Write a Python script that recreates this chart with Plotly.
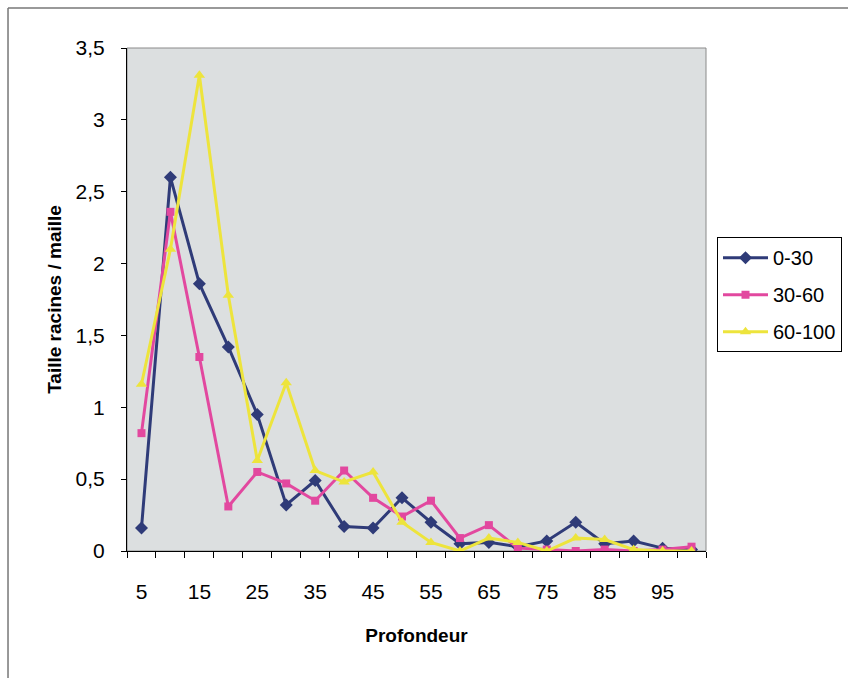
import plotly.graph_objects as go

profondeur = [5, 10, 15, 20, 25, 30, 35, 40, 45, 50, 55, 60, 65, 70, 75, 80, 85, 90, 95, 100]
s_0_30 = [0.16, 2.60, 1.86, 1.42, 0.95, 0.32, 0.49, 0.17, 0.16, 0.37, 0.20, 0.05, 0.06, 0.03, 0.07, 0.20, 0.05, 0.07, 0.02, 0.01]
s_30_60 = [0.82, 2.36, 1.35, 0.31, 0.55, 0.47, 0.35, 0.56, 0.37, 0.24, 0.35, 0.09, 0.18, 0.02, 0.01, 0.0, 0.01, 0.0, 0.01, 0.03]
s_60_100 = [1.16, 2.10, 3.31, 1.78, 0.63, 1.17, 0.56, 0.48, 0.55, 0.20, 0.06, 0.0, 0.09, 0.06, 0.0, 0.09, 0.08, 0.01, 0.0, 0.0]
series_names = ["0-30", "30-60", "60-100"]
x_tick_vals = [5, 15, 25, 35, 45, 55, 65, 75, 85, 95]
y_tick_vals = [0, 0.5, 1, 1.5, 2, 2.5, 3, 3.5]
y_tick_text = ["0", "0,5", "1", "1,5", "2", "2,5", "3", "3,5"]

font = "Liberation Sans, Arial, sans-serif"
fig = go.Figure()
styles = [
    ("#2f3b78", "diamond", 10),
    ("#e2489f", "square", 8),
    ("#ede43c", "triangle-up", 10),
]
for name, ys, (col, sym, sz) in zip(series_names, [s_0_30, s_30_60, s_60_100], styles):
    fig.add_trace(go.Scatter(
        x=profondeur, y=ys, name=name, mode="lines+markers", legendgroup=name,
        line=dict(color=col, width=3),
        marker=dict(color=col, symbol=sym, size=sz),
    ))

fig.update_layout(
    width=848, height=678,
    margin=dict(l=127, r=142, t=48, b=127, autoexpand=False),
    paper_bgcolor="white",
    plot_bgcolor="#dcdfe0",
    font=dict(family=font, size=20, color="black"),
    showlegend=True,
    legend=dict(
        x=1.019, y=0.624, xanchor="left", yanchor="top",
        bordercolor="black", borderwidth=1, bgcolor="white",
        font=dict(size=20, family=font),
        traceorder="grouped", tracegroupgap=8, itemwidth=45,
    ),
    xaxis=dict(
        range=[2.5, 102.5], tickvals=x_tick_vals, ticks="",
        showgrid=False, zeroline=False,
        showline=True, linecolor="black", linewidth=1,
        tickfont=dict(size=21), ticklabelstandoff=22,
        minor=dict(tickvals=[2.5 + 5 * i for i in range(21)], ticks="outside",
                   ticklen=6, tickcolor="black", showgrid=False),
        title=dict(text="<b>Profondeur</b>", font=dict(size=19), standoff=26),
    ),
    yaxis=dict(
        range=[0, 3.5], tickvals=y_tick_vals, ticktext=y_tick_text,
        ticks="outside", ticklen=5, tickcolor="black",
        showgrid=False, zeroline=False,
        showline=True, linecolor="black", linewidth=1,
        tickfont=dict(size=21), ticklabelstandoff=12,
        title=dict(text="<b>Taille racines / maille</b>", font=dict(size=19), standoff=8),
    ),
    shapes=[
        dict(type="rect", xref="paper", yref="paper", x0=0, x1=1, y0=0, y1=1,
             line=dict(color="#8a8a8a", width=1), layer="below"),
        dict(type="line", xref="paper", yref="paper", x0=-0.2055, x1=1.3, y0=1.0795, y1=1.0795,
             line=dict(color="#777777", width=1.5)),
        dict(type="line", xref="paper", yref="paper", x0=-0.2055, x1=-0.2055, y0=-0.26, y1=1.0795,
             line=dict(color="#777777", width=1.5)),
    ],
)

fig.write_html("out.html")
